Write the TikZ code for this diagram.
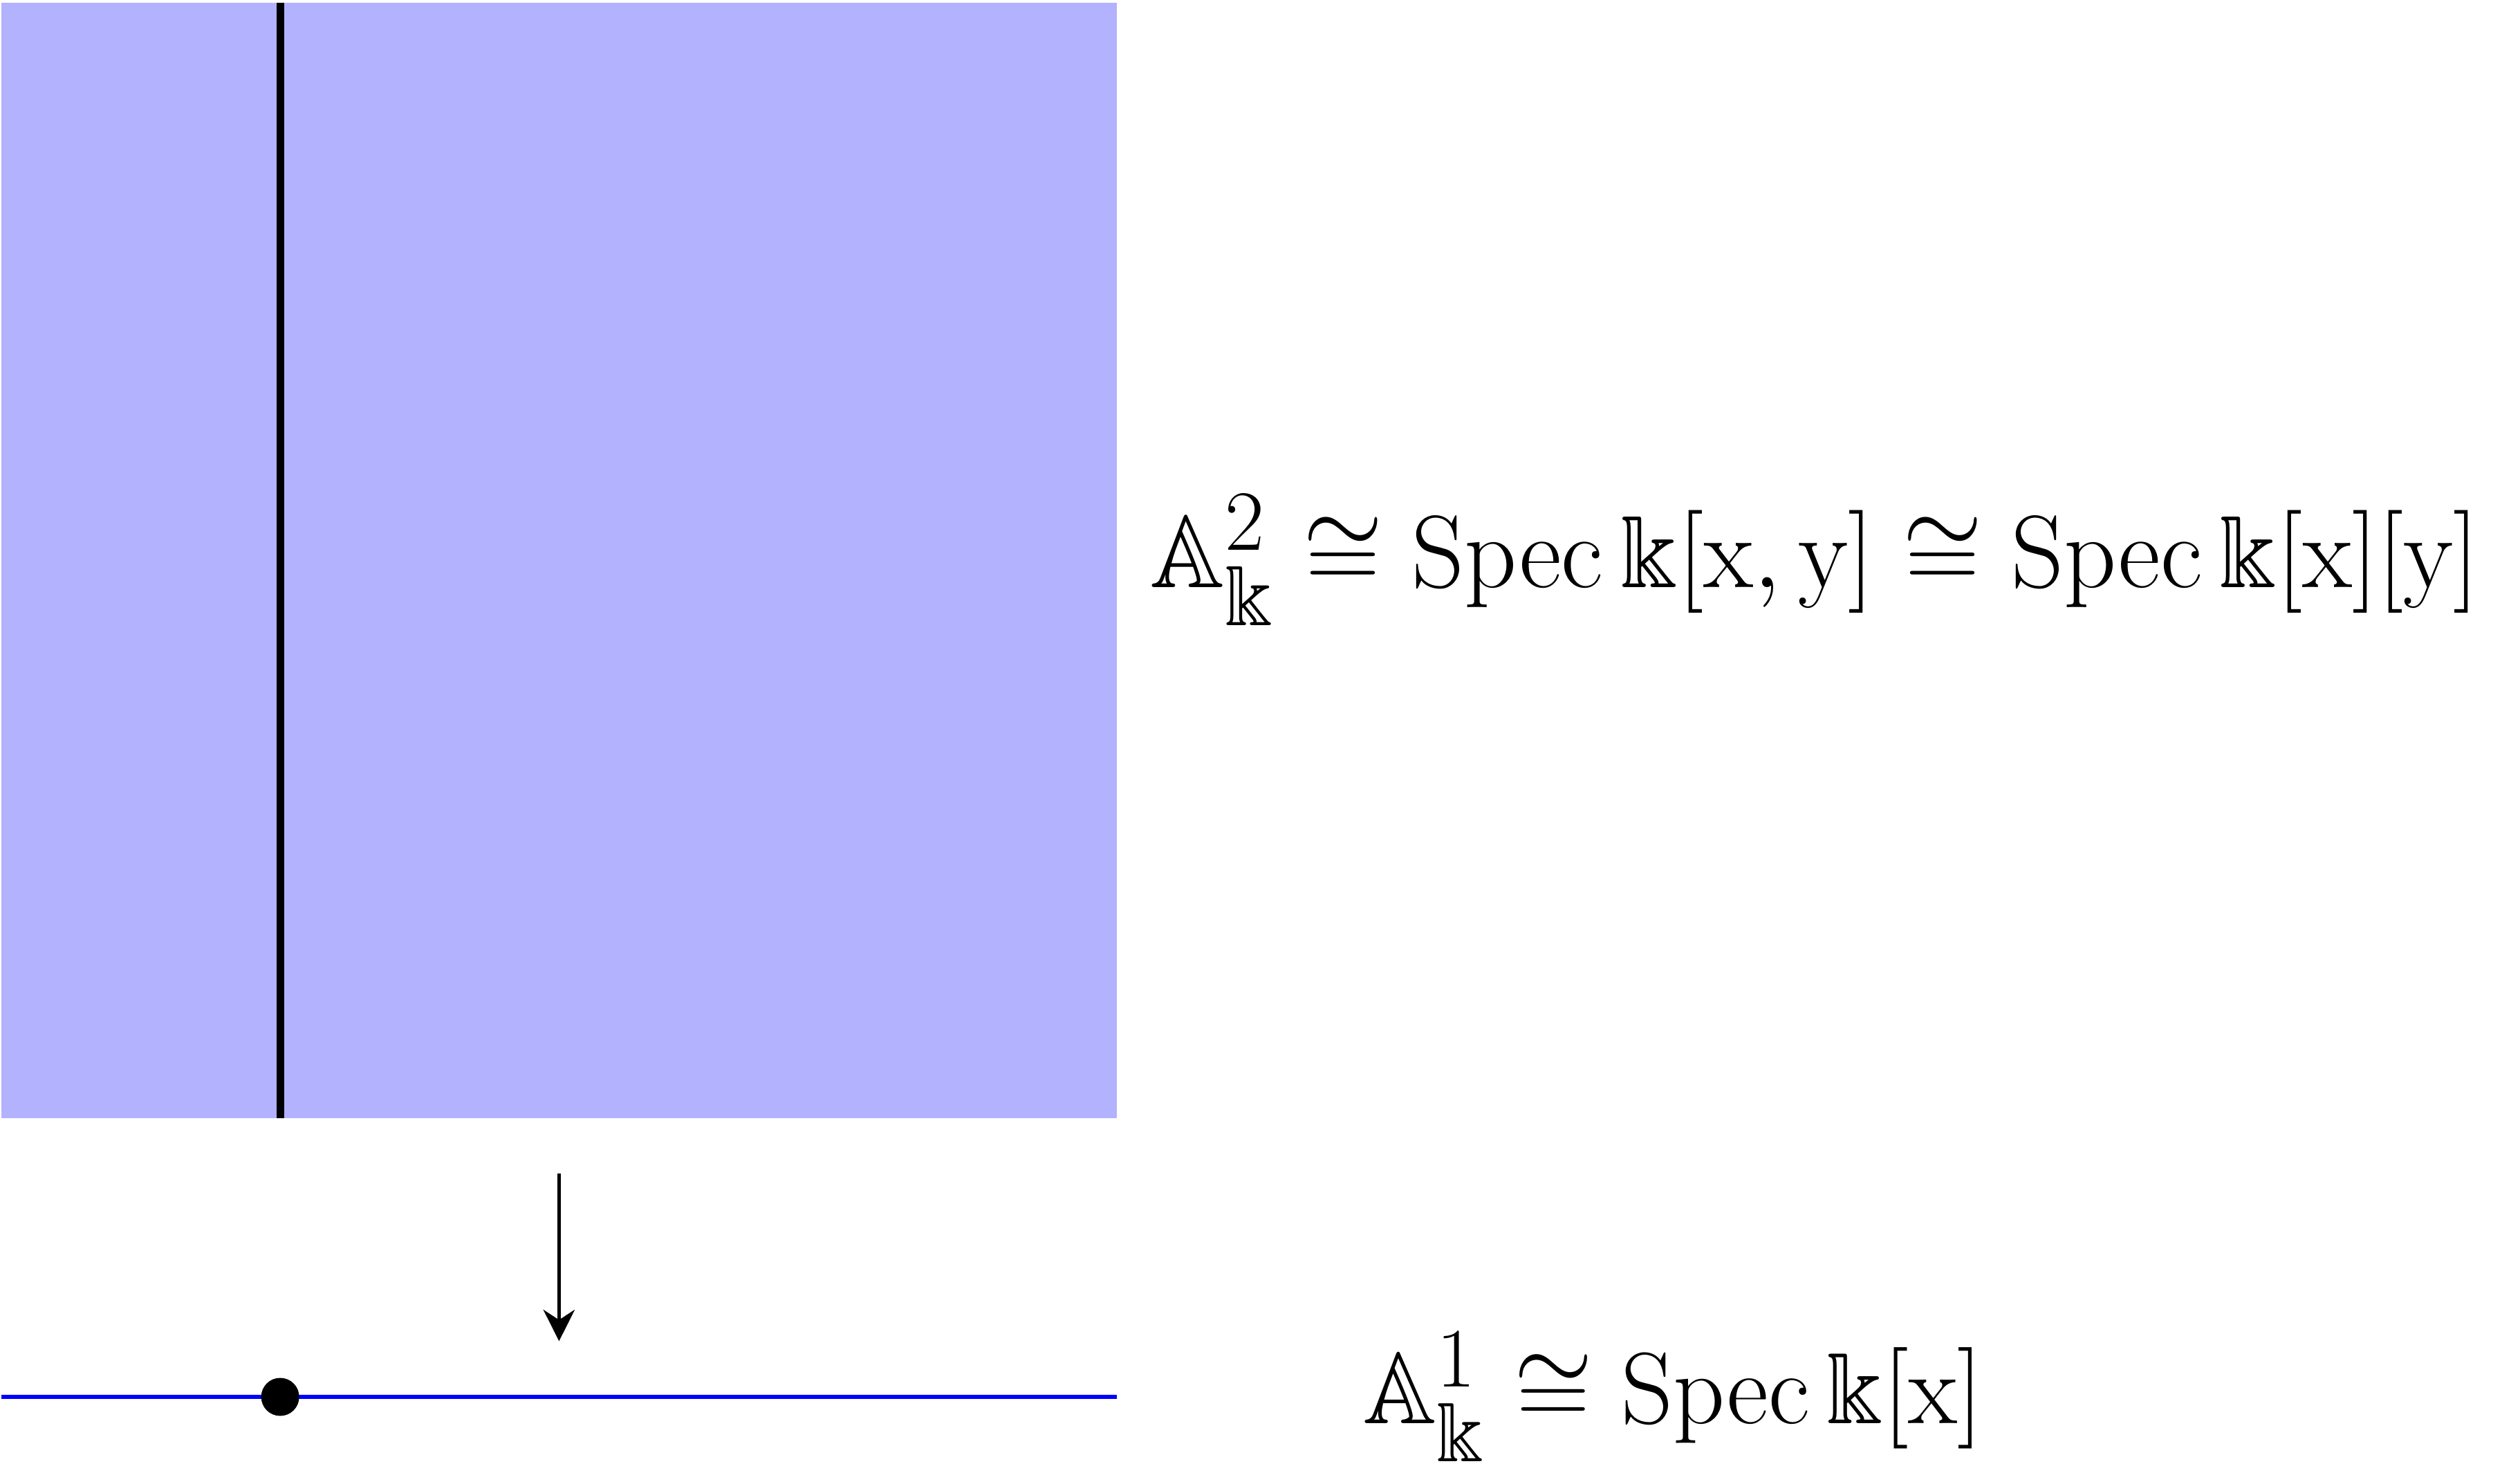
\documentclass[tikz,border=0pt]{standalone}
\usepackage{amsmath,amssymb,graphicx}
\usepackage{tikz}
\usetikzlibrary{arrows.meta,positioning}

\begin{document}
\begin{tikzpicture}[
  sheet/.style={fill=blue!30,minimum width=10cm,minimum height=10cm,inner sep=0pt},
  fibre/.style={line width=2pt},
  baseline/.style={blue,line width=1pt},
  dot/.style={circle,fill,minimum size=9.7pt,inner sep=0pt},
  lbl/.style={font=\Huge}
]
  \useasboundingbox (-0.012,-3.28) rectangle (22.5,10.024);
  % Plane
  \node[sheet] (plane) at (5,5) {};
  \coordinate (ftop) at (2.5,10);
  \coordinate (fbot) at (2.5,0);
  \draw[fibre] (ftop) -- (fbot);
  \node[lbl,anchor=west] (planelbl) at (10.18,5)
    {\scalebox{1.055}{$\mathbb{A}^2_{\Bbbk}\cong\operatorname{Spec}\Bbbk[\mathrm{x},\mathrm{y}]\cong\operatorname{Spec}\Bbbk[\mathrm{x}][\mathrm{y}]$}};
  % Projection
  \coordinate (mapfrom) at (5,-0.5);
  \coordinate (mapto) at (5,-2);
  \draw[-{Stealth[length=8pt,width=8pt]},line width=0.9pt] (mapfrom) -- (mapto);
  % Line
  \coordinate (bl) at (0,-2.5);
  \coordinate (br) at (10,-2.5);
  \draw[baseline] (bl) -- (br);
  \node[dot] (pt) at (2.5,-2.5) {};
  \node[lbl] (linelbl) at (14.99,-2.5)
    {\scalebox{1.04}{$\mathbb{A}^1_{\Bbbk}\cong\operatorname{Spec}\Bbbk[\mathrm{x}]$}};
\end{tikzpicture}
\end{document}
